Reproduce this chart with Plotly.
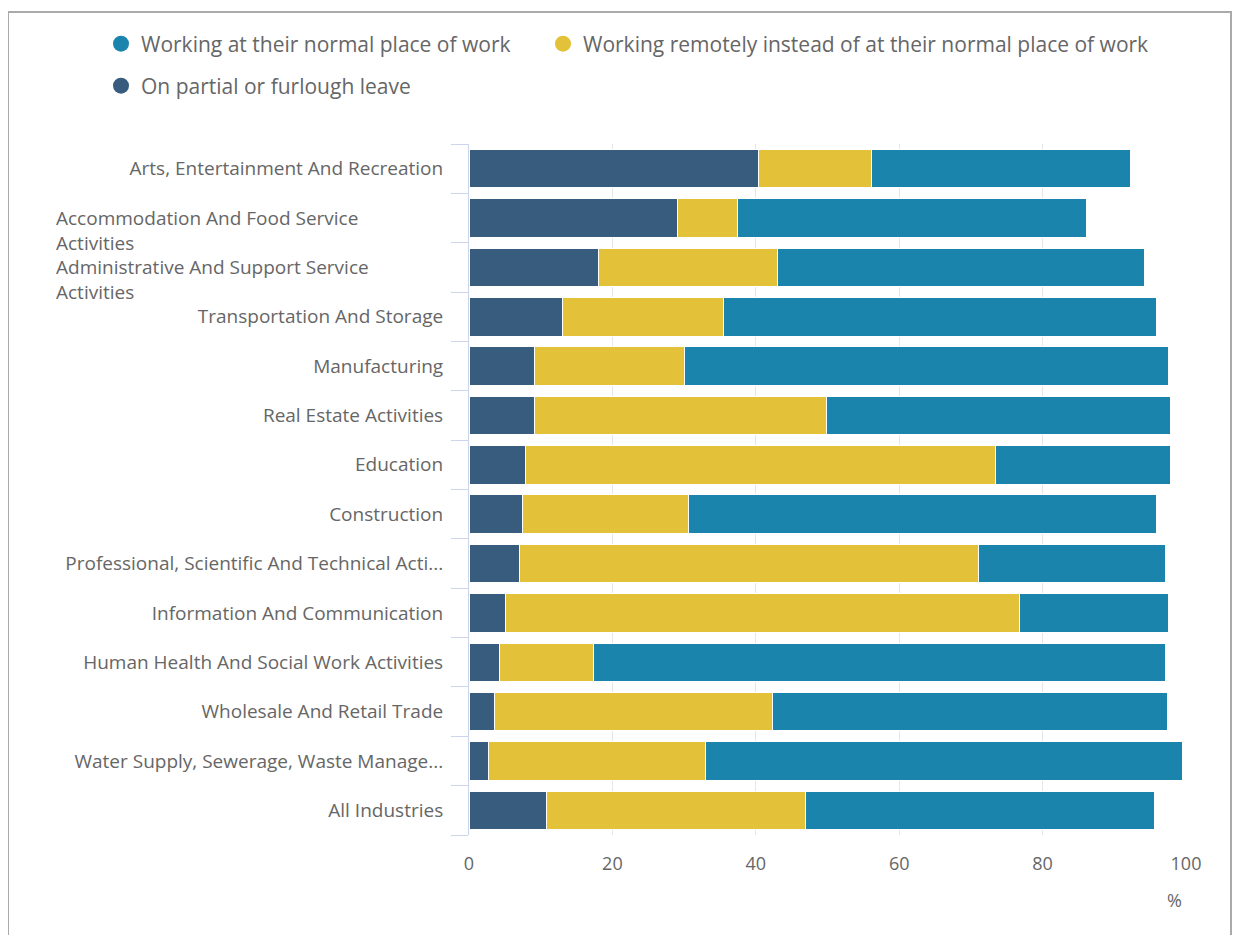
import plotly.graph_objects as go

categories = [
    "Arts, Entertainment And Recreation",
    "Accommodation And Food Service Activities",
    "Administrative And Support Service Activities",
    "Transportation And Storage",
    "Manufacturing",
    "Real Estate Activities",
    "Education",
    "Construction",
    "Professional, Scientific And Technical Acti...",
    "Information And Communication",
    "Human Health And Social Work Activities",
    "Wholesale And Retail Trade",
    "Water Supply, Sewerage, Waste Manage...",
    "All Industries",
]
furlough = [40.4, 29.1, 18.0, 13.0, 9.1, 9.1, 7.9, 7.4, 7.1, 5.1, 4.3, 3.5, 2.7, 10.8]
remote = [15.7, 8.3, 25.0, 22.5, 21.0, 40.7, 65.5, 23.2, 64.0, 71.7, 13.1, 38.8, 30.3, 36.2]
normal = [36.1, 48.7, 51.2, 60.4, 67.5, 48.1, 24.5, 65.3, 26.0, 20.8, 79.7, 55.1, 66.5, 48.6]
x_ticks = [0, 20, 40, 60, 80, 100]

series_names = [
    "On partial or furlough leave",
    "Working remotely instead of at their normal place of work",
    "Working at their normal place of work",
]
colors = ["#375c7d", "#e3c23a", "#1b84ad"]
wrapped = {
    "Accommodation And Food Service Activities": "Accommodation And Food Service<br>Activities",
    "Administrative And Support Service Activities": "Administrative And Support Service<br>Activities",
}

# layout geometry (figure pixels)
L, R, T, B = 461, 62, 136, 108
W, H = 1240, 935
PW = W - L - R
PH = H - T - B


def px(fx):
    return (fx - L) / PW


def py(fy):
    return (H - B - fy) / PH


fig = go.Figure()
for name, vals, col in zip(series_names, [furlough, remote, normal], colors):
    fig.add_trace(go.Bar(
        y=categories, x=vals, orientation="h", name=name,
        marker=dict(color=col, line=dict(color="white", width=1)),
        showlegend=False,
    ))

# legend entries: (name, legend id, colour, x of legend box, y centre) in figure px
legend_items = [
    ("Working at their normal place of work", "legend", colors[2], 93, 36),
    ("Working remotely instead of at their normal place of work", "legend2", colors[1], 535, 36),
    ("On partial or furlough leave", "legend3", colors[0], 93, 78),
]
legend_layout = {}
for name, lg, col, lx, ly in legend_items:
    fig.add_trace(go.Scatter(
        x=[None], y=[None], mode="markers", name=name, legend=lg,
        marker=dict(color=col, size=17, symbol="circle"),
    ))
    legend_layout[lg] = dict(
        orientation="h", xref="container", yref="container",
        x=lx / W, y=1 - ly / H, xanchor="left", yanchor="middle",
        font=dict(size=21, color="#666666"), bgcolor="rgba(0,0,0,0)",
    )

ticktext = ["" if c in wrapped else c for c in categories]

fig.update_layout(
    width=W, height=H,
    barmode="stack", bargap=0.22,
    plot_bgcolor="white", paper_bgcolor="white",
    margin=dict(l=L, r=R, t=T, b=B),
    font=dict(family="Open Sans", color="#666666"),
    showlegend=True,
    xaxis=dict(
        range=[0, 100], tickvals=x_ticks, showgrid=True, gridcolor="#e6e6e6",
        gridwidth=1, zeroline=False, showline=False, ticks="",
        tickfont=dict(size=18, color="#666666"), ticklabelstandoff=16,
        fixedrange=True,
    ),
    yaxis=dict(
        categoryorder="array", categoryarray=categories, autorange="reversed",
        tickvals=categories, ticktext=ticktext,
        showline=True, linecolor="#ccd6eb", linewidth=1,
        ticks="outside", ticklen=17, tickcolor="#ccd6eb", tickson="boundaries",
        tickfont=dict(size=19, color="#666666"), ticklabelstandoff=21,
        showgrid=False, zeroline=False,
    ),
    **legend_layout,
)

for cat, txt in wrapped.items():
    fig.add_annotation(
        x=px(46), xref="paper", y=cat, yref="y",
        text=txt, showarrow=False, xanchor="left", yanchor="top", align="left",
        yshift=15, font=dict(size=19, color="#666666"),
    )

fig.add_annotation(
    x=100, xref="x", y=py(892), yref="paper", text="%",
    showarrow=False, xanchor="right", yanchor="middle", xshift=-2,
    font=dict(size=18, color="#666666"),
)

fig.add_shape(
    type="rect", xref="paper", yref="paper",
    x0=px(0), x1=px(1223),
    y0=py(960), y1=py(4),
    line=dict(color="#aaaaaa", width=2), fillcolor="rgba(0,0,0,0)", layer="below",
)

fig.write_html("out.html")
